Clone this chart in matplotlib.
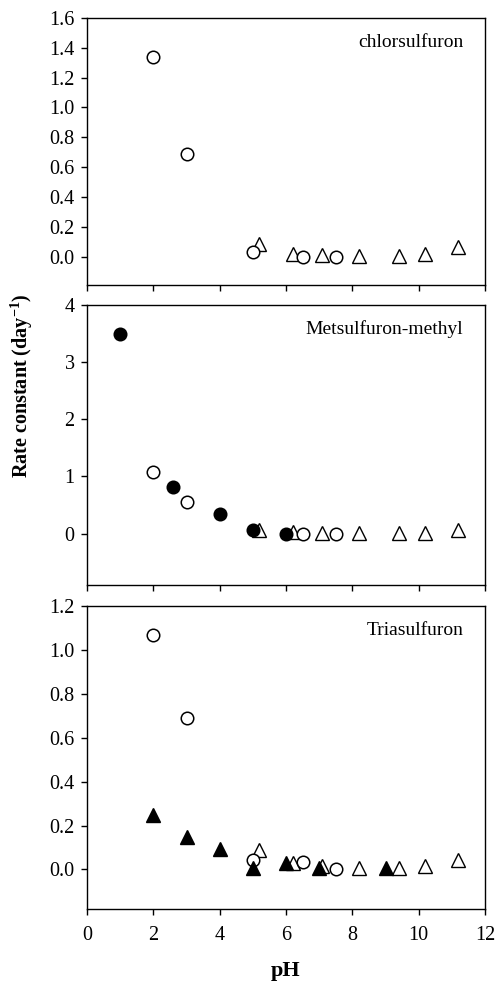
import matplotlib
matplotlib.use('Agg')
import matplotlib.pyplot as plt

plt.rcParams['font.family'] = ['Liberation Serif', 'DejaVu Serif']
plt.rcParams['mathtext.fontset'] = 'custom'
plt.rcParams['mathtext.rm'] = 'Liberation Serif'
plt.rcParams['mathtext.bf'] = 'Liberation Serif:bold'

# chlorsulfuron
chl_oc_x = [2, 3, 5, 6.5, 7.5]
chl_oc_y = [1.34, 0.69, 0.03, 0.0, 0.0]
chl_ot_x = [5.2, 6.2, 7.1, 8.2, 9.4, 10.2, 11.2]
chl_ot_y = [0.085, 0.02, 0.01, 0.005, 0.005, 0.015, 0.065]

# Metsulfuron-methyl
met_fc_x = [1.0, 2.6, 4.0, 5.0, 6.0]
met_fc_y = [3.5, 0.81, 0.35, 0.06, 0.0]
met_oc_x = [2, 3, 6.5, 7.5]
met_oc_y = [1.08, 0.56, 0.0, 0.0]
met_ot_x = [5.2, 6.2, 7.1, 8.2, 9.4, 10.2, 11.2]
met_ot_y = [0.07, 0.02, 0.01, 0.01, 0.01, 0.01, 0.07]

# Triasulfuron
tri_oc_x = [2, 3, 5, 6.5, 7.5]
tri_oc_y = [1.07, 0.69, 0.045, 0.035, 0.0]
tri_ft_x = [2, 3, 4, 5, 6, 7, 9]
tri_ft_y = [0.25, 0.147, 0.094, 0.008, 0.03, 0.008, 0.005]
tri_ot_x = [5.2, 6.2, 7.1, 8.2, 9.4, 10.2, 11.2]
tri_ot_y = [0.09, 0.03, 0.015, 0.005, 0.005, 0.015, 0.045]

W, H = 496, 986
fig = plt.figure(figsize=(W/100, H/100), dpi=100)

def make_ax(top, bottom):
    left, right = 87, 485
    ax = fig.add_axes([left/W, 1-bottom/H, (right-left)/W, (bottom-top)/H])
    ax.tick_params(direction='out', labelsize=14.5, length=4, width=1)
    ax.tick_params(axis='x', pad=8)
    ax.tick_params(axis='y', pad=5)
    for s in ax.spines.values():
        s.set_linewidth(1)
    ax.set_xlim(0, 12)
    ax.set_xticks(range(0, 13, 2))
    return ax

ms_c = 9
ms_t = 9.5
oc = dict(marker='o', ms=ms_c, mfc='white', mec='black', mew=1.1, ls='none')
fc = dict(marker='o', ms=ms_c, mfc='black', mec='black', mew=1.1, ls='none')
ot = dict(marker='^', ms=ms_t, mfc='white', mec='black', mew=1.0, ls='none')
ft = dict(marker='^', ms=ms_t, mfc='black', mec='black', mew=1.0, ls='none')

ax1 = make_ax(18, 285)
ax1.plot(chl_ot_x, chl_ot_y, **ot)
ax1.plot(chl_oc_x, chl_oc_y, **oc)
ax1.set_ylim(-0.19, 1.6)
ax1.set_yticks([0, 0.2, 0.4, 0.6, 0.8, 1.0, 1.2, 1.4, 1.6])
ax1.set_yticklabels(['%.1f' % v for v in ax1.get_yticks()])
ax1.set_xticklabels([])
ax1.text(0.945, 0.91, 'chlorsulfuron', transform=ax1.transAxes, ha='right', va='center', fontsize=14)

ax2 = make_ax(305, 585)
ax2.plot(met_ot_x, met_ot_y, **ot)
ax2.plot(met_oc_x, met_oc_y, **oc)
ax2.plot(met_fc_x, met_fc_y, **fc)
ax2.set_ylim(-0.9, 4)
ax2.set_yticks([0, 1, 2, 3, 4])
ax2.set_xticklabels([])
ax2.text(0.945, 0.915, 'Metsulfuron-methyl', transform=ax2.transAxes, ha='right', va='center', fontsize=14)

ax3 = make_ax(606, 909)
ax3.plot(tri_ot_x, tri_ot_y, **ot)
ax3.plot(tri_oc_x, tri_oc_y, **oc)
ax3.plot(tri_ft_x, tri_ft_y, **ft)
ax3.set_ylim(-0.18, 1.2)
ax3.set_yticks([0, 0.2, 0.4, 0.6, 0.8, 1.0, 1.2])
ax3.set_yticklabels(['%.1f' % v for v in ax3.get_yticks()])
ax3.text(0.945, 0.92, 'Triasulfuron', transform=ax3.transAxes, ha='right', va='center', fontsize=14)
ax3.set_xlabel('pH', fontsize=16, fontweight='bold', labelpad=12)

fig.text(22/W, 1-386/H, r'Rate constant (day$^{\mathbf{-1}}$)', rotation=90, ha='center', va='center',
         fontsize=14.5, fontweight='bold')

fig.savefig('out.png', dpi=100)
